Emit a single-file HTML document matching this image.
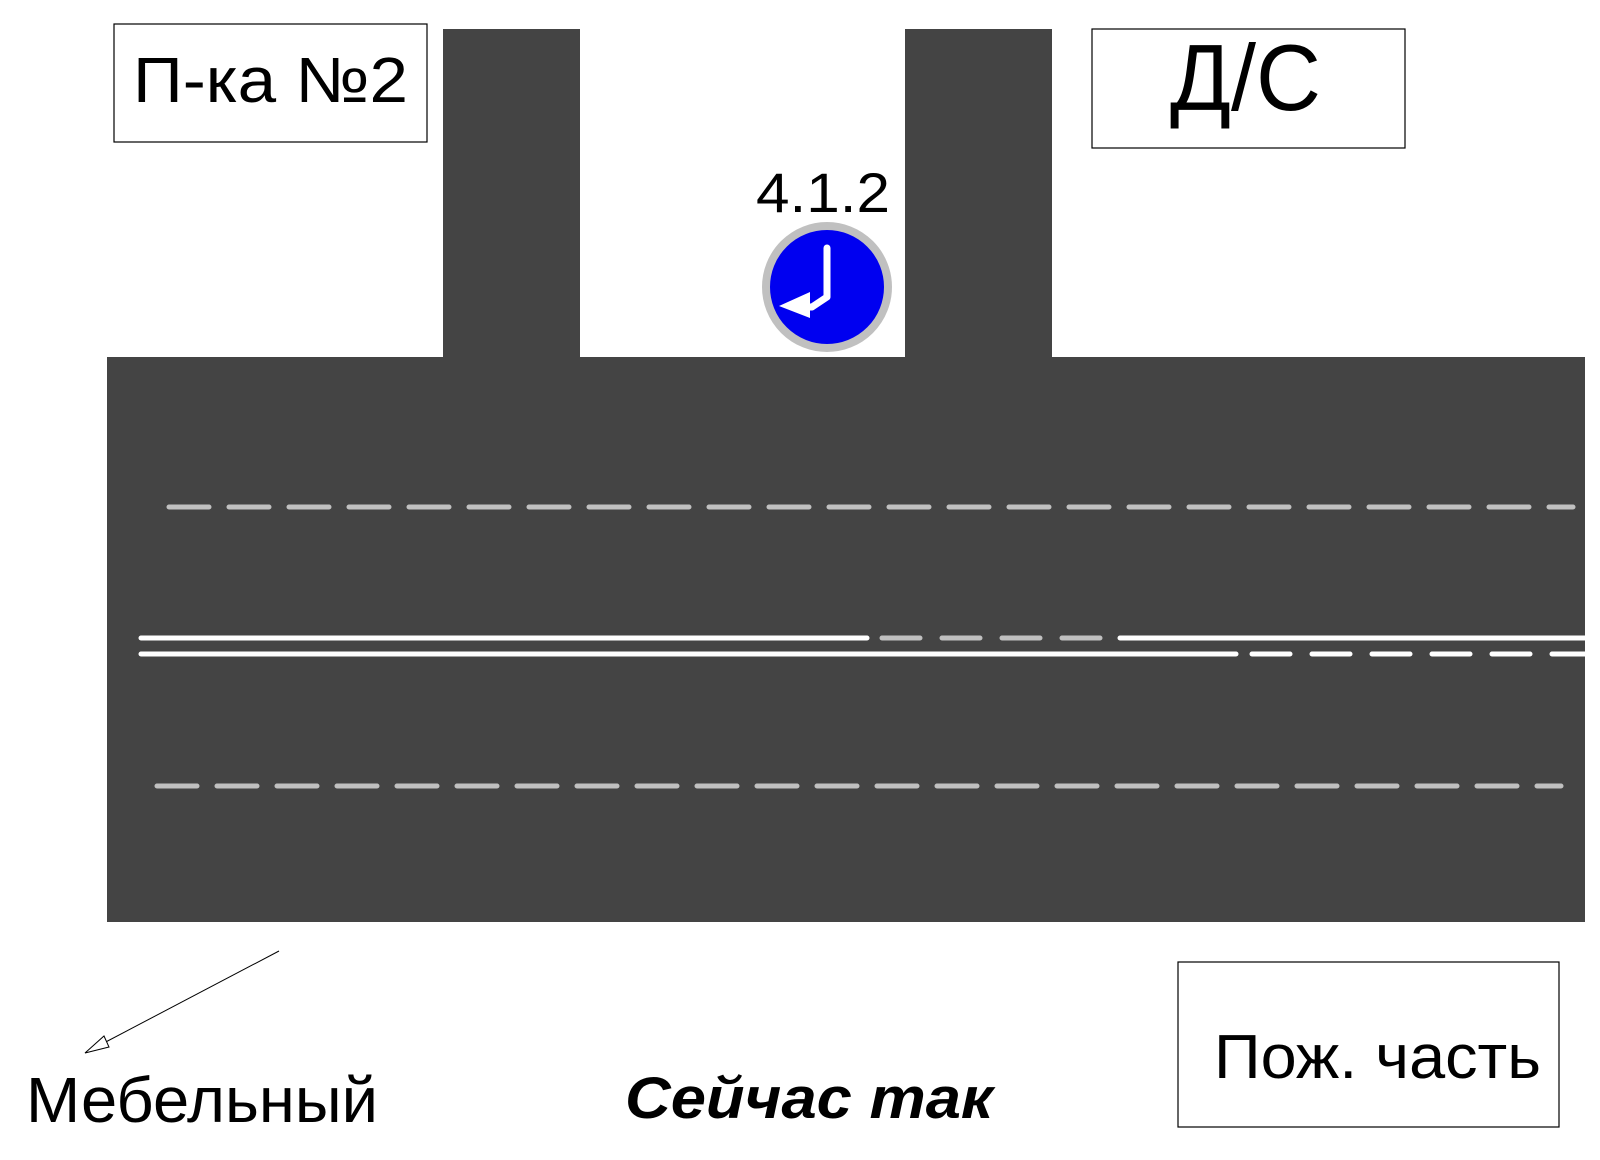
<!DOCTYPE html>
<html><head><meta charset="utf-8"><style>html,body{margin:0;padding:0;background:#fff}svg{display:block}</style></head>
<body>
<svg width="1600" height="1160" viewBox="0 0 1600 1160" xmlns="http://www.w3.org/2000/svg" font-family="Liberation Sans, DejaVu Sans, sans-serif">
<rect width="1600" height="1160" fill="#fff"/>
<rect x="114" y="24" width="313" height="118" fill="#fff" stroke="#000" stroke-width="1.2"/>
<text x="133" y="102" font-size="64" textLength="275" lengthAdjust="spacingAndGlyphs">П-ка №2</text>
<rect x="1092" y="29" width="313" height="119" fill="#fff" stroke="#000" stroke-width="1.2"/>
<text x="1170" y="110" font-size="94" textLength="151" lengthAdjust="spacingAndGlyphs">Д/С</text>
<rect x="443" y="29" width="137" height="340" fill="#444"/>
<rect x="905" y="29" width="147" height="340" fill="#444"/>
<rect x="107" y="357" width="1478" height="565" fill="#444"/>
<text x="756" y="212" font-size="56" textLength="134" lengthAdjust="spacingAndGlyphs">4.1.2</text>
<circle cx="827" cy="287" r="61" fill="#0000f0" stroke="#c0c0c0" stroke-width="8"/>
<path d="M827 248 L827 297 L812 307 L800 307" fill="none" stroke="#fff" stroke-width="7" stroke-linecap="round" stroke-linejoin="round"/>
<polygon points="779,306 810,292 810,318" fill="#fff"/>
<g stroke-linecap="round" stroke-width="5">
<line x1="169" y1="507" x2="1573" y2="507" stroke="#c0c0c0" stroke-dasharray="40 20"/>
<line x1="157" y1="786" x2="1561" y2="786" stroke="#c0c0c0" stroke-dasharray="40 20"/>
<line x1="141" y1="638" x2="867" y2="638" stroke="#fff"/>
<line x1="882" y1="638" x2="1103" y2="638" stroke="#c0c0c0" stroke-dasharray="38 22"/>
<line x1="1120" y1="638" x2="1585" y2="638" stroke="#fff"/>
<line x1="141" y1="654" x2="1236" y2="654" stroke="#fff"/>
<line x1="1252" y1="654" x2="1585" y2="654" stroke="#fff" stroke-dasharray="38 22"/>
</g>
<line x1="279" y1="951" x2="100" y2="1045" stroke="#000" stroke-width="1"/>
<polygon points="85,1053 104,1036 109,1047" fill="#fff" stroke="#000" stroke-width="1"/>
<text x="26" y="1122" font-size="64" textLength="352" lengthAdjust="spacingAndGlyphs">Мебельный</text>
<text x="625" y="1118" font-size="58" font-weight="bold" font-style="italic" textLength="368" lengthAdjust="spacingAndGlyphs">Сейчас так</text>
<rect x="1178" y="962" width="381" height="165" fill="#fff" stroke="#000" stroke-width="1.2"/>
<text x="1214" y="1078" font-size="62" textLength="327" lengthAdjust="spacingAndGlyphs">Пож. часть</text>
</svg>
</body></html>
